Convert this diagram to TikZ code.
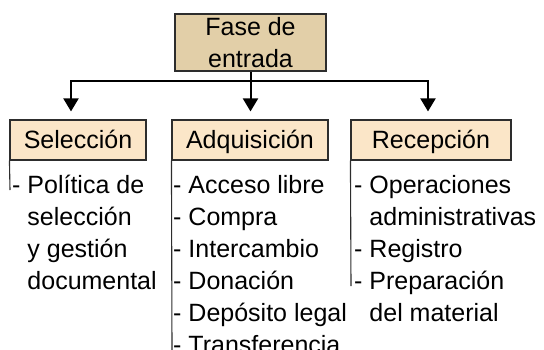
\documentclass[tikz,border=0pt]{standalone}
\usepackage{fontspec}
\setmainfont{Liberation Sans}
\usetikzlibrary{arrows.meta}
\definecolor{tanfill}{RGB}{226,207,168}
\definecolor{peachfill}{RGB}{251,230,200}
\definecolor{boxline}{RGB}{45,45,45}
\begin{document}
\begin{tikzpicture}[x=1pt,y=-1pt,
  every node/.style={font=\fontsize{25}{32}\selectfont},
  phase/.style={draw=boxline,line width=1.6pt,fill=tanfill,minimum width=151pt,minimum height=57pt,align=center,inner sep=0pt},
  stage/.style={draw=boxline,line width=1.1pt,fill=peachfill,minimum height=40pt,text height=18pt,text depth=2pt,inner sep=0pt},
  items/.style={align=left,anchor=base west,inner sep=0pt},
  conn/.style={line width=2pt},
  arr/.style={conn,-{Triangle[width=15pt,length=13pt]}},
  rail/.style={draw=boxline,line width=1.1pt}]
\useasboundingbox (0,0) rectangle (544,349);
\clip (0,0) rectangle (544,349);

\node[phase] (fase) at (250.5,42.5) {Fase de\\entrada};
\node[stage,minimum width=136pt] (sel) at (78,140) {Selección};
\node[stage,minimum width=156pt] (adq) at (250,140) {Adquisición};
\node[stage,minimum width=160pt] (rec) at (431,140) {Recepción};

\coordinate (hub) at (250.5,81);
\draw[conn] (fase.south) -- (hub);
\draw[arr] (hub) -| ([xshift=-7pt,yshift=8pt]sel.north);
\draw[arr] (hub) -| ([xshift=-3pt,yshift=8pt]rec.north);
\draw[arr] (hub) -- ([xshift=0.5pt,yshift=8pt]adq.north);

% base anchor = baseline of the last line
\node[items] (selitems) at (12,289) {- Política de\\\hphantom{- }selección\\\hphantom{- }y gestión\\\hphantom{- }documental};
\node[items] (adqitems) at (173,353) {- Acceso libre\\- Compra\\- Intercambio\\- Donación\\- Depósito legal\\- Transferencia};
\node[items] (recitems) at (354,321) {- Operaciones\\\hphantom{- }administrativas\\- Registro\\- Preparación\\\hphantom{- }del material};

\coordinate (selend) at (10,190);
\coordinate (adqend) at (172,350);
\coordinate (recend) at (351,286);
\draw[rail] (sel.south west) -- (selend);
\draw[rail] (adq.south west) -- (adqend);
\draw[rail] (rec.south west) -- (recend);
\end{tikzpicture}
\end{document}
